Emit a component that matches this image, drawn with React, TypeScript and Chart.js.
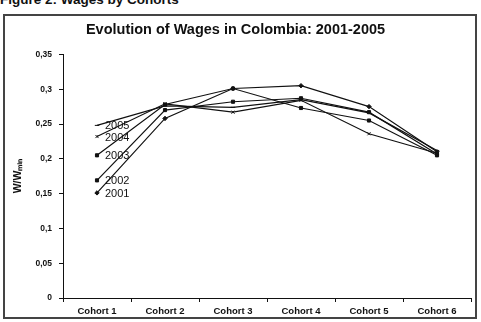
import React, { useEffect, useRef } from "react";
import { Chart, registerables } from "chart.js";

Chart.register(...registerables);

const categories = ["Cohort 1", "Cohort 2", "Cohort 3", "Cohort 4", "Cohort 5", "Cohort 6"];
const years = ["2001", "2002", "2003", "2004", "2005"];
const wages2001 = [0.151, 0.258, 0.301, 0.305, 0.275, 0.21];
const wages2002 = [0.169, 0.27, 0.282, 0.287, 0.267, 0.207];
const wages2003 = [0.205, 0.278, 0.301, 0.273, 0.255, 0.205];
const wages2004 = [0.232, 0.279, 0.267, 0.284, 0.236, 0.208];
const wages2005 = [0.248, 0.276, 0.274, 0.285, 0.266, 0.212];
const seriesValues = [wages2001, wages2002, wages2003, wages2004, wages2005];
const pointStyles = ["rectRot", "rect", "rect", "crossRot", "line"];
const yMin = 0;
const yMax = 0.35;
const yStep = 0.05;

const FONT = '"Liberation Sans", Arial, sans-serif';

const yearLabels = {
  id: "yearLabels",
  afterDatasetsDraw(chart: any) {
    const ctx = chart.ctx;
    ctx.save();
    ctx.font = `11px ${FONT}`;
    ctx.fillStyle = "#111";
    ctx.textBaseline = "middle";
    ctx.textAlign = "left";
    chart.data.datasets.forEach((ds: any, i: number) => {
      const meta = chart.getDatasetMeta(i);
      const pt = meta.data[0];
      if (pt) ctx.fillText(ds.label, pt.x + 8, pt.y + 1);
    });
    ctx.restore();
  },
};

export default function App() {
  const ref = useRef<HTMLCanvasElement>(null);

  useEffect(() => {
    if (!ref.current) return;
    const chart = new Chart(ref.current, {
      type: "line",
      data: {
        labels: categories,
        datasets: years.map((y, i) => ({
          label: y,
          data: seriesValues[i],
          borderColor: "#111",
          backgroundColor: "#111",
          borderWidth: 1.2,
          pointStyle: pointStyles[i] as any,
          pointRadius: 2.2,
          pointBorderWidth: 1,
          pointBorderColor: "#111",
          pointBackgroundColor: "#111",
          fill: false,
          tension: 0,
        })),
      },
      options: {
        animation: false,
        responsive: false,
        maintainAspectRatio: false,
        layout: { padding: { left: 0, right: 10, top: 0, bottom: 0 } },
        plugins: {
          legend: { display: false },
          tooltip: { enabled: false },
          title: {
            display: true,
            text: "Evolution of Wages in Colombia: 2001-2005",
            color: "#111",
            font: { family: FONT, size: 14.5, weight: "bold" },
            padding: { top: 21, bottom: 16 },
          },
        },
        scales: {
          x: {
            offset: true,
            grid: {
              display: true,
              drawOnChartArea: false,
              offset: true,
              tickLength: 4,
              color: "#111",
            },
            border: { color: "#111", width: 1 },
            ticks: {
              color: "#111",
              font: { family: FONT, size: 9.5, weight: "bold" },
              padding: 4,
              maxRotation: 0,
            },
            afterFit: (scale: any) => {
              scale.height = 24;
            },
          },
          y: {
            min: yMin,
            max: yMax,
            grid: {
              display: true,
              drawOnChartArea: false,
              tickLength: 4,
              color: "#111",
            },
            border: { color: "#111", width: 1 },
            ticks: {
              stepSize: yStep,
              color: "#111",
              font: { family: FONT, size: 8.5, weight: "bold" },
              padding: 7,
              callback: (v: any) => String(Math.round(Number(v) * 100) / 100).replace(".", ","),
            },
            title: {
              display: true,
              text: "W/Wₘᵢₙ",
              color: "#111",
              font: { family: FONT, size: 10.5, weight: "bold" },
              padding: { top: 12, bottom: 0 },
            },
            afterFit: (scale: any) => {
              scale.width = 63;
            },
          },
        },
      },
      plugins: [yearLabels],
    });
    return () => chart.destroy();
  }, []);

  return (
    <div style={{ position: "fixed", left: 0, top: 0, width: 481, height: 322, background: "#fff", overflow: "hidden" }}>
      <div
        style={{
          position: "absolute",
          left: 0,
          top: -8,
          fontFamily: FONT,
          fontWeight: "bold",
          fontSize: 13.5,
          color: "#111",
          whiteSpace: "nowrap",
          lineHeight: "15px",
        }}
      >
        Figure 2: Wages by Cohorts
      </div>
      <div
        style={{
          position: "absolute",
          left: 3,
          top: 14,
          width: 470,
          height: 301,
          border: "2px solid #444",
        }}
      />
      <canvas ref={ref} width={481} height={322} style={{ position: "absolute", left: 0, top: 0 }} />
    </div>
  );
}
